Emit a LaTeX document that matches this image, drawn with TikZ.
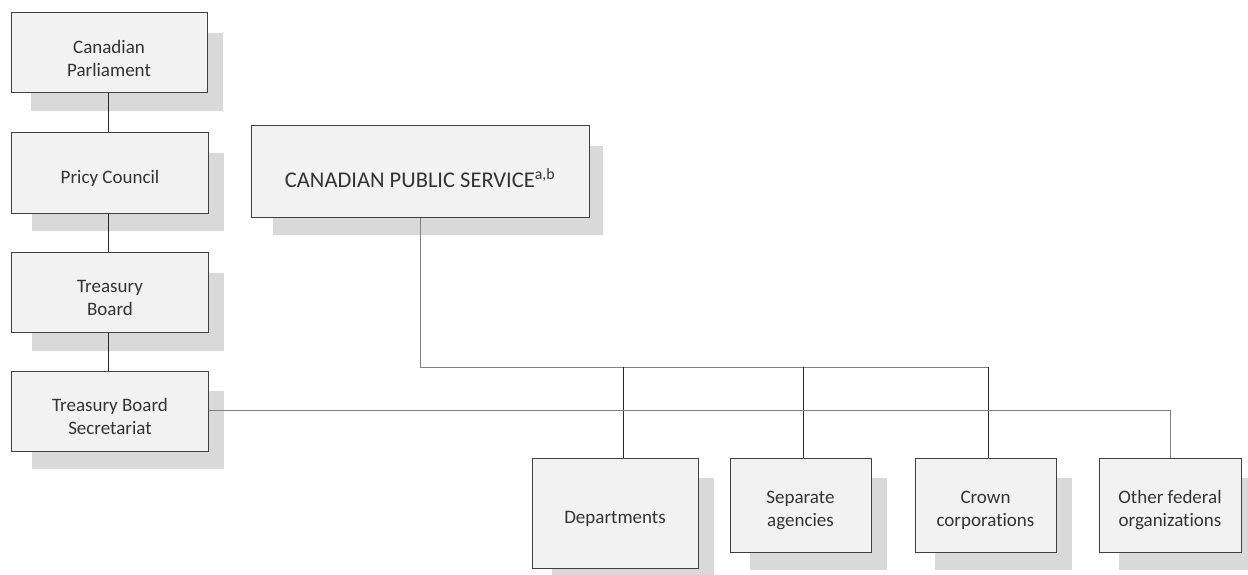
\documentclass[tikz,border=0pt]{standalone}
\usepackage{fontspec}
\setmainfont{Carlito}[Ligatures={NoCommon,NoContextual}]
\usetikzlibrary{shadows}
\definecolor{boxfill}{HTML}{F2F2F2}
\definecolor{boxline}{HTML}{404040}
\definecolor{shadowc}{HTML}{D9D9D9}
\definecolor{linegrey}{HTML}{808080}
\definecolor{linedark}{HTML}{262626}
\definecolor{txt}{HTML}{333333}
\tikzset{
  orgbox/.style={draw=boxline, fill=boxfill, line width=1pt, inner sep=0pt,
    general shadow={fill=shadowc, shadow scale=0.975, shadow xshift=18.5pt, shadow yshift=-19.5pt}},
  orgtext/.style={align=center, text=txt, font=\fontsize{19}{23}\selectfont,
    inner sep=0pt, yshift=-5.5pt},
  bigtext/.style={orgtext, font=\fontsize{22.5}{27}\selectfont, yshift=-1pt},
  greyline/.style={draw=linegrey, line width=1pt},
  darkline/.style={draw=linedark, line width=1pt},
}
\begin{document}
\begin{tikzpicture}[x=1pt,y=-1pt]
\useasboundingbox (0,0) rectangle (1248,575);
\node[orgbox, minimum width=196pt, minimum height=80pt,
  label={[orgtext]center:{Canadian\\Parliament}}] (cp) at (109,53) {};
\node[orgbox, minimum width=197pt, minimum height=80pt,
  label={[orgtext]center:{Pricy Council}}] (pc) at (110,173) {};
\node[orgbox, minimum width=197pt, minimum height=80pt,
  label={[orgtext]center:{Treasury\\Board}}] (tb) at (110,292.5) {};
\node[orgbox, minimum width=197pt, minimum height=80pt,
  label={[orgtext]center:{Treasury Board\\Secretariat}}] (tbs) at (110,411) {};
\node[orgbox, minimum width=338pt, minimum height=91pt,
  label={[bigtext]center:{CANADIAN PUBLIC SERVICE\textsuperscript{a,b}}}] (cps) at (420,171.5) {};
\node[orgbox, minimum width=166pt, minimum height=110pt,
  label={[orgtext]center:{Departments}}] (dep) at (615,513) {};
\node[orgbox, minimum width=141pt, minimum height=94pt,
  label={[orgtext]center:{Separate\\agencies}}] (sep) at (800.5,505) {};
\node[orgbox, minimum width=141pt, minimum height=94pt,
  label={[orgtext]center:{Crown\\corporations}}] (cr) at (985.5,505) {};
\node[orgbox, minimum width=142pt, minimum height=94pt,
  label={[orgtext]center:{Other federal\\organizations}}] (oth) at (1170,505) {};
\coordinate (bus) at (0,367);
% left chain
\draw[darkline] ([xshift=-1pt]cp.south) -- ([xshift=-2pt]pc.north);
\draw[darkline] ([xshift=-2pt]pc.south) -- ([xshift=-2pt]tb.north);
\draw[darkline] ([xshift=-2pt]tb.south) -- ([xshift=-2pt]tbs.north);
% public service bus
\draw[greyline] (cps.south) |- ([xshift=2.5pt]cr.north |- bus);
\draw[darkline] ([xshift=2.5pt]cr.north |- bus) -- ([xshift=2.5pt]cr.north);
\draw[darkline] ([xshift=8pt]dep.north |- bus) -- ([xshift=8pt]dep.north);
\draw[darkline] ([xshift=2.5pt]sep.north |- bus) -- ([xshift=2.5pt]sep.north);
% treasury board secretariat line
\draw[greyline] ([yshift=1pt]tbs.east) -| (oth.north);
\end{tikzpicture}
\end{document}
